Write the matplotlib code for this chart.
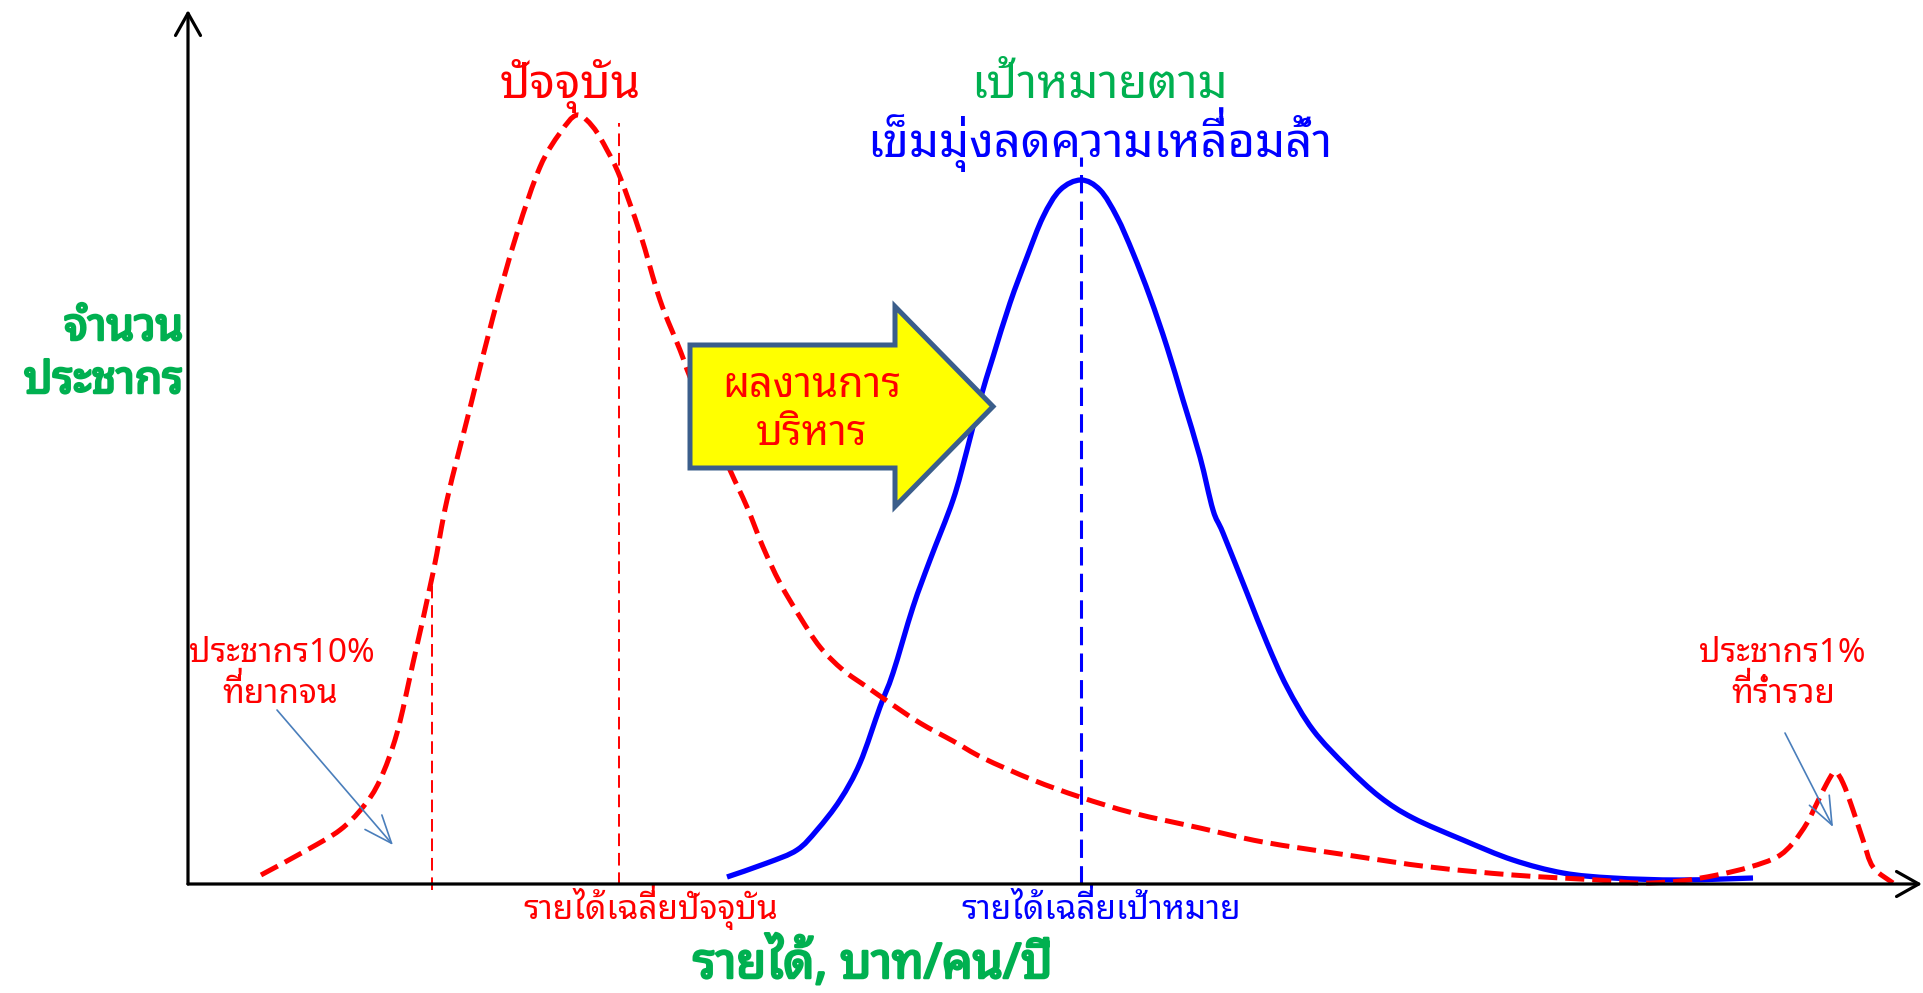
import matplotlib
matplotlib.use('Agg')
import numpy as np
import matplotlib.pyplot as plt
import matplotlib.patheffects as pe
from matplotlib.patches import FancyArrow, PathPatch
from matplotlib.path import Path
from matplotlib.textpath import TextPath
from matplotlib.font_manager import FontProperties

plt.rcParams['font.family'] = ['Noto Sans Thai Looped', 'DejaVu Sans']
FP = FontProperties(family=['Noto Sans Thai Looped', 'DejaVu Sans'])

RED = '#ff0000'
BLUE = '#0000ff'
GREEN = '#00b050'
NAVY = '#3b5e8b'
STEEL = '#4a7ebb'

# current income distribution (income, population)
cur_income = [73, 119, 152, 175, 192, 209, 225, 245, 259, 282, 305, 329, 352, 372,
              389, 405, 419, 432, 452, 472, 492, 502, 522, 542, 559, 575, 592, 612,
              632, 655, 679, 702, 732, 765, 795, 845, 892, 945, 1012, 1075, 1159,
              1242, 1325, 1409, 1452, 1492, 1529, 1562, 1589, 1605, 1619, 1629,
              1639, 1647, 1655, 1665, 1675, 1685, 1705]
cur_pop = [9, 34, 54, 77, 104, 151, 221, 311, 384, 476, 567, 651, 717, 751,
           769, 757, 734, 707, 651, 584, 534, 507, 461, 414, 377, 337, 301, 267,
           237, 214, 197, 181, 161, 143, 126, 104, 87, 71, 56, 42, 29,
           17, 9, 4, 1, 3, 9, 17, 27, 41, 61, 81,
           101, 112, 101, 74, 44, 17, 1]

# target distribution
tgt_income = [539, 579, 609, 629, 652, 672, 692, 705, 725, 742, 765, 779, 792, 805,
              822, 839, 855, 872, 893, 912, 929, 945, 962, 979, 995, 1012, 1025,
              1035, 1059, 1079, 1099, 1125, 1159, 1192, 1225, 1275, 1325, 1375,
              1425, 1492, 1565]
tgt_pop = [7, 21, 34, 54, 84, 121, 177, 211, 277, 324, 384, 434, 484, 527,
           581, 627, 667, 694, 704, 694, 667, 631, 587, 537, 484, 427, 374,
           351, 291, 241, 197, 154, 117, 87, 66, 44, 24, 11,
           6, 4, 6]

poor_cut = 244      # income of poorest 10%
cur_mean = 431      # current average income
tgt_mean = 893      # target average income

TONES = '\u0e48\u0e49\u0e4a\u0e4b\u0e4c'
UPPER = '\u0e31\u0e34\u0e35\u0e36\u0e37\u0e47'

fig = plt.figure(figsize=(19.24, 9.93), dpi=100)
ax = fig.add_axes([188 / 1924, 109 / 993, 1734 / 1924, 874 / 993])
ax.set_xlim(0, 1734)
ax.set_ylim(0, 874)
ax.axis('off')


def smooth(xs, ys):
    # catmull-rom through the read points, as bezier segments
    p = np.column_stack([xs, ys]).astype(float)
    q = np.vstack([p[0], p, p[-1]])
    verts = [p[0]]
    for i in range(1, len(q) - 2):
        verts += [q[i] + (q[i + 1] - q[i - 1]) / 6, q[i + 1] - (q[i + 2] - q[i]) / 6, q[i + 1]]
    codes = [Path.MOVETO] + [Path.CURVE4] * (len(verts) - 1)
    return Path(verts, codes)


def ink(tp):
    v = tp.vertices[tp.codes != Path.CLOSEPOLY]
    return v[:, 0].min(), v[:, 0].max()


def thai(x, y, s, pt, color, ha='center', **kw):
    # matplotlib has no Thai shaping: a tone mark after an upper vowel
    # is drawn again one level higher so that it stays visible
    px = pt * 100 / 72
    a, b = ink(TextPath((0, 0), s, size=px, prop=FP))
    x0 = {'center': x - (a + b) / 2, 'left': x - a, 'right': x - b}[ha]
    ax.text(x0, y, s, color=color, fontsize=pt, ha='left', va='baseline', clip_on=False, **kw)
    for i, ch in enumerate(s):
        if ch in TONES and s[i - 1] in UPPER:
            before = TextPath((0, 0), s[:i], size=px, prop=FP)
            both = TextPath((0, 0), s[:i + 1], size=px, prop=FP)
            n = len(before.vertices)
            tail = both.vertices[n:][both.codes[n:] != Path.CLOSEPOLY]
            pen = tail[:, 0].min() - ink(TextPath((0, 0), ch, size=px, prop=FP))[0]
            mark = TextPath((x0 + pen, y + 0.2 * px), ch, size=px, prop=FP)
            ax.add_patch(PathPatch(mark, facecolor=color, edgecolor='none', clip_on=False))


# axes with arrow heads
arw = dict(arrowstyle='->,head_length=0.8,head_width=0.45', lw=2.3, color='black',
           shrinkA=0, shrinkB=0, mutation_scale=20)
ax.annotate('', xy=(1, 0), xytext=(0, 0), xycoords='axes fraction', arrowprops=arw)
ax.annotate('', xy=(0, 1), xytext=(0, 0), xycoords='axes fraction', arrowprops=arw)

# reference lines
ax.plot([poor_cut, poor_cut], [-6, 307], color=RED, lw=1.4, ls=(0, (6.5, 3.5)), clip_on=False)
ax.plot([cur_mean, cur_mean], [-1, 761], color=RED, lw=1.4, ls=(0, (6.5, 3.5)), clip_on=False)
ax.plot([tgt_mean, tgt_mean], [0, 727], color=BLUE, lw=2.2, ls=(0, (6, 2.7)), clip_on=False)

# curves
ax.add_patch(PathPatch(smooth(tgt_income, tgt_pop), fill=False, edgecolor=BLUE, lw=3.8,
                       joinstyle='round', clip_on=False))
ax.add_patch(PathPatch(smooth(cur_income, cur_pop), fill=False, edgecolor=RED, lw=3.6,
                       ls=(0, (3.8, 1.6)), clip_on=False))

# big yellow arrow
ax.add_patch(FancyArrow(502, 477.5, 303, 0, width=123, head_width=200, head_length=98,
                        length_includes_head=True, facecolor='#ffff00', edgecolor=NAVY,
                        lw=3.6, zorder=5))
ax.text(624, 487, 'ผลงานการ', color=RED, fontsize=30, ha='center', va='baseline', zorder=6)
ax.text(624, 439, 'บริหาร', color=RED, fontsize=30, ha='center', va='baseline', zorder=6)

# titles
thai(382, 786, 'ปัจจุบัน', 34, RED)
thai(912, 786, 'เป้าหมายตาม', 34, GREEN)
thai(912, 727, 'เข็มมุ่งลดความเหลื่อมล้ำ', 34, BLUE)

# small notes
thai(93, 222, 'ประชากร10%', 24, RED)
thai(92, 181, 'ที่ยากจน', 24, RED)
thai(1594, 222, 'ประชากร1%', 24, RED)
thai(1594, 181, 'ที่ร่ำรวย', 24, RED)
note = dict(arrowstyle='->,head_length=1.0,head_width=0.4', lw=1.2, color=STEEL,
            shrinkA=0, shrinkB=0, mutation_scale=20)
ax.annotate('', xy=(205, 39), xytext=(89, 174), arrowprops=note)
ax.annotate('', xy=(1645, 57), xytext=(1597, 151), arrowprops=note)

# axis labels
thai(462, -35, 'รายได้เฉลี่ยปัจจุบัน', 24, RED)
thai(912, -35, 'รายได้เฉลี่ยเป้าหมาย', 24, BLUE)
bold = [pe.withStroke(linewidth=1.8, foreground=GREEN)]
thai(683, -94, 'รายได้, บาท/คน/ปี', 35, GREEN, path_effects=bold)
thai(-7, 544, 'จำนวน', 32, GREEN, ha='right', path_effects=bold)
thai(-7, 491, 'ประชากร', 32, GREEN, ha='right', path_effects=bold)

fig.savefig('out.png', dpi=100)
